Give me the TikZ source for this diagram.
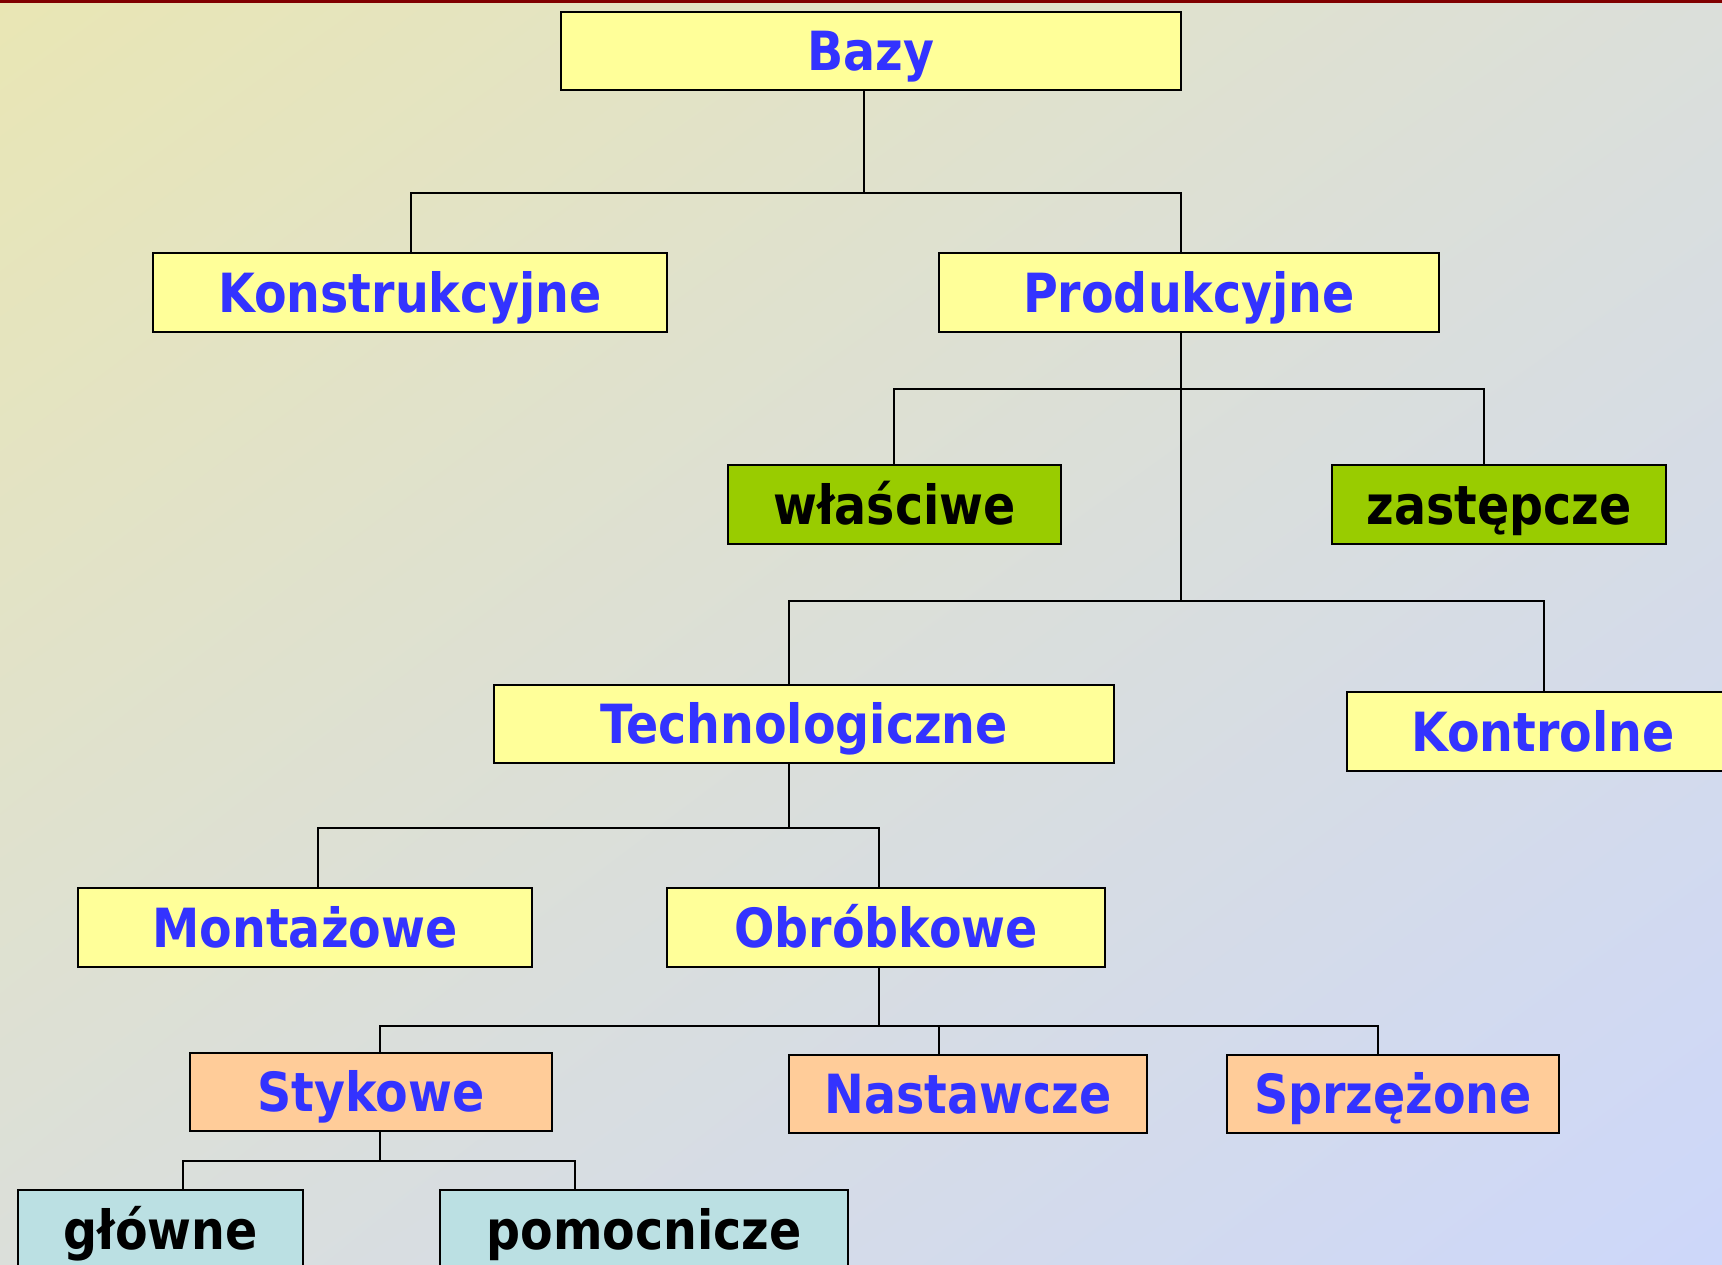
\documentclass[tikz,border=0pt]{standalone}
\usepackage{fontspec}
\usepackage{tikz}
\usetikzlibrary{calc, positioning, shadings}
\newfontfamily\boxfont{DejaVu Sans}[FakeStretch=0.88]
\definecolor{boxYellow}{RGB}{255,255,153}
\definecolor{boxGreen}{RGB}{153,204,0}
\definecolor{boxPeach}{RGB}{255,204,153}
\definecolor{boxCyan}{RGB}{187,224,227}
\definecolor{textBlue}{RGB}{51,51,255}
\definecolor{topRed}{RGB}{128,0,0}
\definecolor{bgTL}{RGB}{233,230,180}
\definecolor{bgTR}{RGB}{219,223,218}
\definecolor{bgBL}{RGB}{219,223,218}
\definecolor{bgBR}{RGB}{205,215,250}

\begin{document}
\begin{tikzpicture}[x=0.5pt, y=-0.5pt,
    box/.style={draw=black, line width=1pt, inner sep=0pt, text height=19.7pt, text depth=0pt,
        font=\boxfont\bfseries\fontsize{27}{30}\selectfont, text=textBlue, fill=boxYellow},
    boxsize/.style 2 args={minimum width=#1*0.5pt, minimum height=#2*0.5pt},
    green/.style={box, fill=boxGreen, text=black},
    peach/.style={box, fill=boxPeach},
    cyan/.style={box, fill=boxCyan, text=black},
    link/.style={draw=black, line width=1pt}]
    \clip (0,0) rectangle (1722,1264);
    % background
    \shade[upper left=bgTL, upper right=bgTR, lower left=bgBL, lower right=bgBR] (0,0) rectangle (1722,1264);
    \fill[topRed] (0,0) rectangle (1722,3);

    % level 1-2
    \node[box, boxsize={620}{78}] (bazy) at (871,51) {Bazy};
    \node[box, boxsize={514}{79}] (konstr) at (410,292.5) {Konstrukcyjne};
    \node[box, boxsize={500}{79}] (produk) at (1189,292.5) {Produkcyjne};

    % Produkcyjne
    \node[green, boxsize={333}{79}] (wlasc) at (894.5,504.5) {właściwe};
    \node[green, boxsize={334}{79}] (zastep) at (1499,504.5) {zastępcze};
    \node[box, boxsize={620}{78}] (techno) at (804,724) {Technologiczne};
    \node[box, boxsize={392}{79}] (kontrol) at (1543,731.5) {Kontrolne};

    % Technologiczne
    \node[box, boxsize={454}{79}] (montaz) at (305,927.5) {Montażowe};
    \node[box, boxsize={438}{79}] (obrob) at (886,927.5) {Obróbkowe};

    % Obróbkowe
    \node[peach, boxsize={362}{78}] (stykowe) at (371,1092) {Stykowe};
    \node[peach, boxsize={358}{78}] (nastaw) at (968,1094) {Nastawcze};
    \node[peach, boxsize={332}{78}] (sprzez) at (1393,1094) {Sprzężone};

    % Stykowe
    \node[cyan, boxsize={285}{79}] (glowne) at (160.5,1229.5) {główne};
    \node[cyan, boxsize={408}{79}] (pomoc) at (644,1229.5) {pomocnicze};

    % connectors
    \coordinate (bus1) at (864,193);
    \coordinate (bus2) at (1181,389);
    \coordinate (bus3) at (1181,601);
    \coordinate (bus4) at (789,828);
    \coordinate (bus5) at (879,1026);
    \coordinate (bus6) at (380,1161);

    \draw[link] (bazy.south -| bus1) -- (bus1);
    \draw[link] ($(konstr.north)+(1,0)$) |- (bus1) -| ($(produk.north)+(-8,0)$);

    \draw[link] ($(produk.south)+(-8,0)$) -- (bus3);
    \draw[link] ($(wlasc.north)+(-0.5,0)$) |- (bus2) -| ($(zastep.north)+(-15,0)$);
    \draw[link] ($(techno.north)+(-15,0)$) |- (bus3) -| ($(kontrol.north)+(1,0)$);

    \draw[link] ($(techno.south)+(-15,0)$) -- (bus4);
    \draw[link] ($(montaz.north)+(13,0)$) |- (bus4) -| ($(obrob.north)+(-7,0)$);

    \draw[link] ($(obrob.south)+(-7,0)$) -- (bus5);
    \draw[link] ($(stykowe.north)+(9,0)$) |- (bus5) -| ($(sprzez.north)+(-15,0)$);
    \draw[link] ($(nastaw.north)+(-29,0)$) |- (bus5);

    \draw[link] ($(stykowe.south)+(9,0)$) -- (bus6);
    \draw[link] ($(glowne.north)+(22.5,0)$) |- (bus6) -| ($(pomoc.north)+(-69,0)$);
\end{tikzpicture}
\end{document}
